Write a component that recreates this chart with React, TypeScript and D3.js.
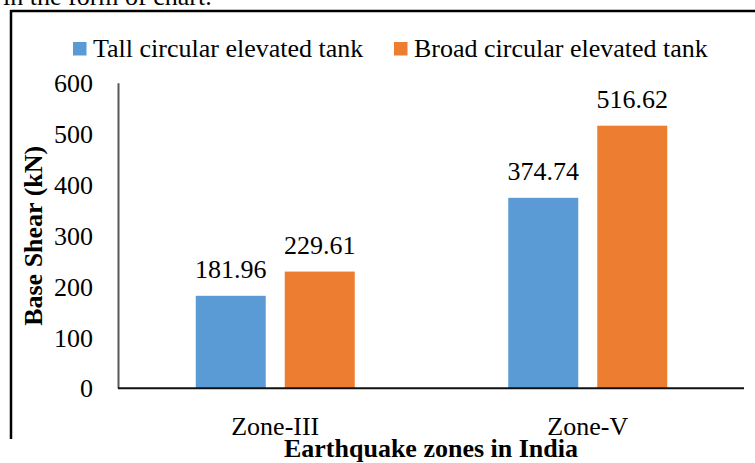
import React from "react";
import * as d3 from "d3";

const categories = ["Zone-III", "Zone-V"];
const seriesNames = ["Tall circular elevated tank", "Broad circular elevated tank"];
const tallValues = [181.96, 374.74];
const broadValues = [229.61, 516.62];
const yTicks = [0, 100, 200, 300, 400, 500, 600];
const colors = ["#5B9BD5", "#ED7D31"];

const W = 755;
const H = 463;
const FONT = "Liberation Serif";

const txt: React.CSSProperties = { fontFamily: FONT, fontSize: 26 };
const bold: React.CSSProperties = { fontFamily: FONT, fontSize: 26, fontWeight: 700 };

export default function App() {
  const plotLeft = 119;
  const plotRight = 744;
  const plotTop = 83.3;
  const plotBottom = 388.3;

  const y = d3.scaleLinear().domain([0, 600]).range([plotBottom, plotTop]);
  const x0 = d3
    .scaleBand<string>()
    .domain(categories)
    .range([plotLeft, plotRight])
    .paddingInner(0.4912)
    .paddingOuter(0.2456);
  const x1 = d3
    .scaleBand<string>()
    .domain(seriesNames)
    .range([0, x0.bandwidth()])
    .paddingInner(19 / 89);

  const seriesValues = [tallValues, broadValues];

  return (
    <svg
      width={W}
      height={H}
      style={{ position: "absolute", left: 0, top: 0, background: "#fff" }}
    >
      <rect x={0} y={0} width={W} height={H} fill="#fff" />
      <text x={3} y={5} style={txt} fill="#000">
        in the form of chart.
      </text>
      {/* frame */}
      <line x1={10} x2={W} y1={11} y2={11} stroke="#000" strokeWidth={2.5} />
      <line x1={11} x2={11} y1={10} y2={439} stroke="#000" strokeWidth={2.5} />

      {/* legend */}
      {seriesNames.map((s, i) => {
        const lx = i === 0 ? 73 : 394;
        return (
          <g key={s}>
            <rect x={lx} y={42} width={13.5} height={13.5} fill={colors[i]} />
            <text x={lx + 20} y={57} style={txt} fill="#000">
              {s}
            </text>
          </g>
        );
      })}

      {/* y tick labels */}
      {yTicks.map((t) => (
        <text key={t} x={93} y={y(t)} dy="0.35em" textAnchor="end" style={txt} fill="#000">
          {t}
        </text>
      ))}

      {/* bars */}
      {categories.map((c, ci) => (
        <g key={c} transform={`translate(${x0(c)},0)`}>
          {seriesNames.map((s, si) => {
            const v = seriesValues[si][ci];
            const bx = x1(s) as number;
            return (
              <g key={s}>
                <rect
                  x={bx}
                  y={y(v)}
                  width={x1.bandwidth()}
                  height={plotBottom - y(v)}
                  fill={colors[si]}
                />
                <text
                  x={bx + x1.bandwidth() / 2}
                  y={y(v) - 18}
                  textAnchor="middle"
                  style={txt}
                  fill="#000"
                >
                  {v.toFixed(2)}
                </text>
              </g>
            );
          })}
        </g>
      ))}

      {/* axes */}
      <line x1={118.5} x2={118.5} y1={plotTop} y2={plotBottom} stroke="#595959" strokeWidth={2} />
      <line x1={118} x2={plotRight} y1={plotBottom} y2={plotBottom} stroke="#111" strokeWidth={2} />

      {/* category labels */}
      {categories.map((c) => (
        <text
          key={c}
          x={(x0(c) as number) + x0.bandwidth() / 2}
          y={435}
          textAnchor="middle"
          style={txt}
          fill="#000"
        >
          {c}
        </text>
      ))}

      {/* axis titles */}
      <text x={431} y={457} textAnchor="middle" style={bold} fill="#000">
        Earthquake zones in India
      </text>
      <text
        transform={`translate(42, ${(plotTop + plotBottom) / 2}) rotate(-90)`}
        textAnchor="middle"
        style={bold}
        fill="#000"
      >
        Base Shear (kN)
      </text>
    </svg>
  );
}
